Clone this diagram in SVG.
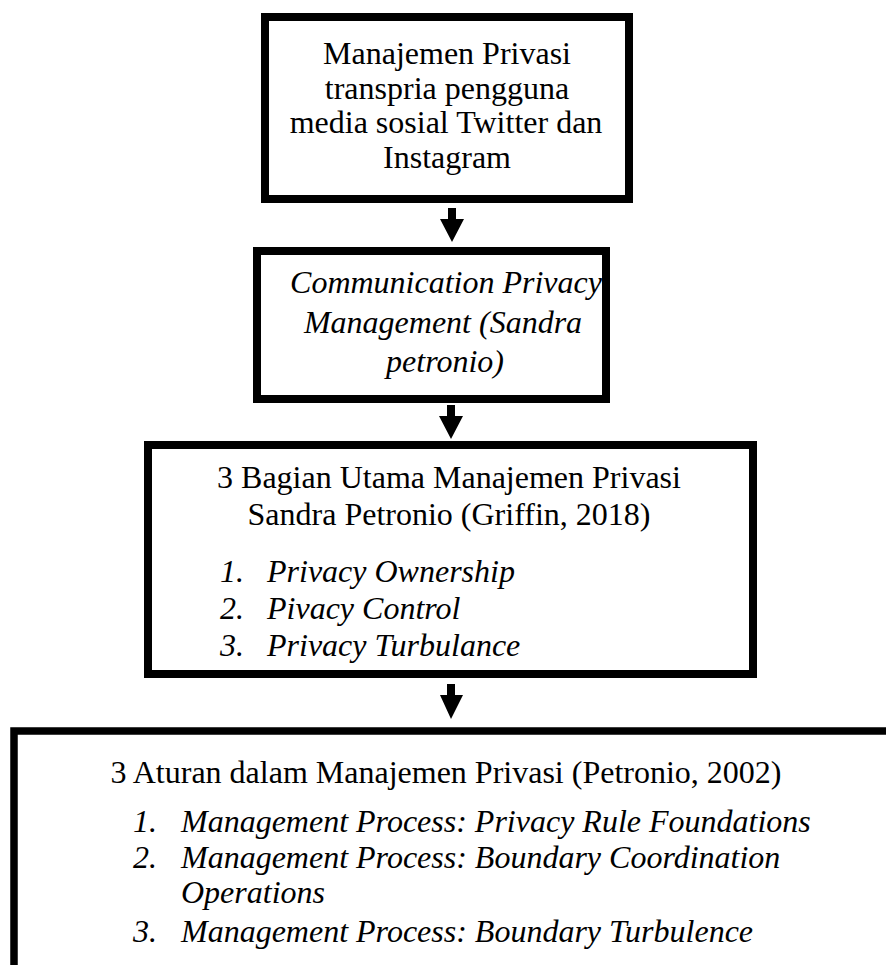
<svg xmlns="http://www.w3.org/2000/svg" width="886" height="965" viewBox="0 0 886 965">
<style>
.box{fill:#fff;stroke:#000;stroke-width:8}
.t{font-family:"Liberation Serif","Times New Roman",serif;font-size:32px;fill:#000}
.c{text-anchor:middle}
.i{font-style:italic}
.arrow{fill:#000}
</style>
<rect width="886" height="965" fill="#fff"/>
<g id="node1">
<rect class="box" x="265" y="17" width="364" height="182"/>
<text class="t c" x="447" y="64">Manajemen Privasi</text>
<text class="t c" x="447" y="98.5">transpria pengguna</text>
<text class="t c" x="446" y="133">media sosial Twitter dan</text>
<text class="t c" x="447" y="167.5">Instagram</text>
</g>
<g id="node2">
<rect class="box" x="257" y="251" width="349" height="148"/>
<text class="t c i" x="446" y="293">Communication Privacy</text>
<text class="t c i" x="443" y="333">Management (Sandra</text>
<text class="t c i" x="445" y="372">petronio)</text>
</g>
<g id="node3">
<rect class="box" x="148" y="445" width="605" height="229"/>
<text class="t c" x="449" y="488">3 Bagian Utama Manajemen Privasi</text>
<text class="t c" x="449" y="525">Sandra Petronio (Griffin, 2018)</text>
<text class="t i" x="220" y="582">1.</text><text class="t i" x="267" y="582">Privacy Ownership</text>
<text class="t i" x="220" y="619">2.</text><text class="t i" x="267" y="619">Pivacy Control</text>
<text class="t i" x="220" y="656">3.</text><text class="t i" x="267" y="656">Privacy Turbulance</text>
</g>
<g id="node4">
<rect class="box" x="14" y="731" width="900" height="300" style="stroke-width:7.5"/>
<text class="t c" x="446" y="783">3 Aturan dalam Manajemen Privasi (Petronio, 2002)</text>
<text class="t i" x="133" y="832">1.</text><text class="t i" x="181" y="832">Management Process: Privacy Rule Foundations</text>
<text class="t i" x="133" y="868">2.</text><text class="t i" x="181" y="868">Management Process: Boundary Coordination</text>
<text class="t i" x="181" y="903">Operations</text>
<text class="t i" x="133" y="942">3.</text><text class="t i" x="181" y="942">Management Process: Boundary Turbulence</text>
</g>
<g id="connectors">
<polygon class="arrow" points="448,208 456,208 456,219 464,219 452,242 440,219 448,219"/>
<polygon class="arrow" points="447,405 455,405 455,416 463,416 451,439 439,416 447,416"/>
<polygon class="arrow" points="447,684 455,684 455,695 463,695 451,719 440,695 447,695"/>
</g>
</svg>
